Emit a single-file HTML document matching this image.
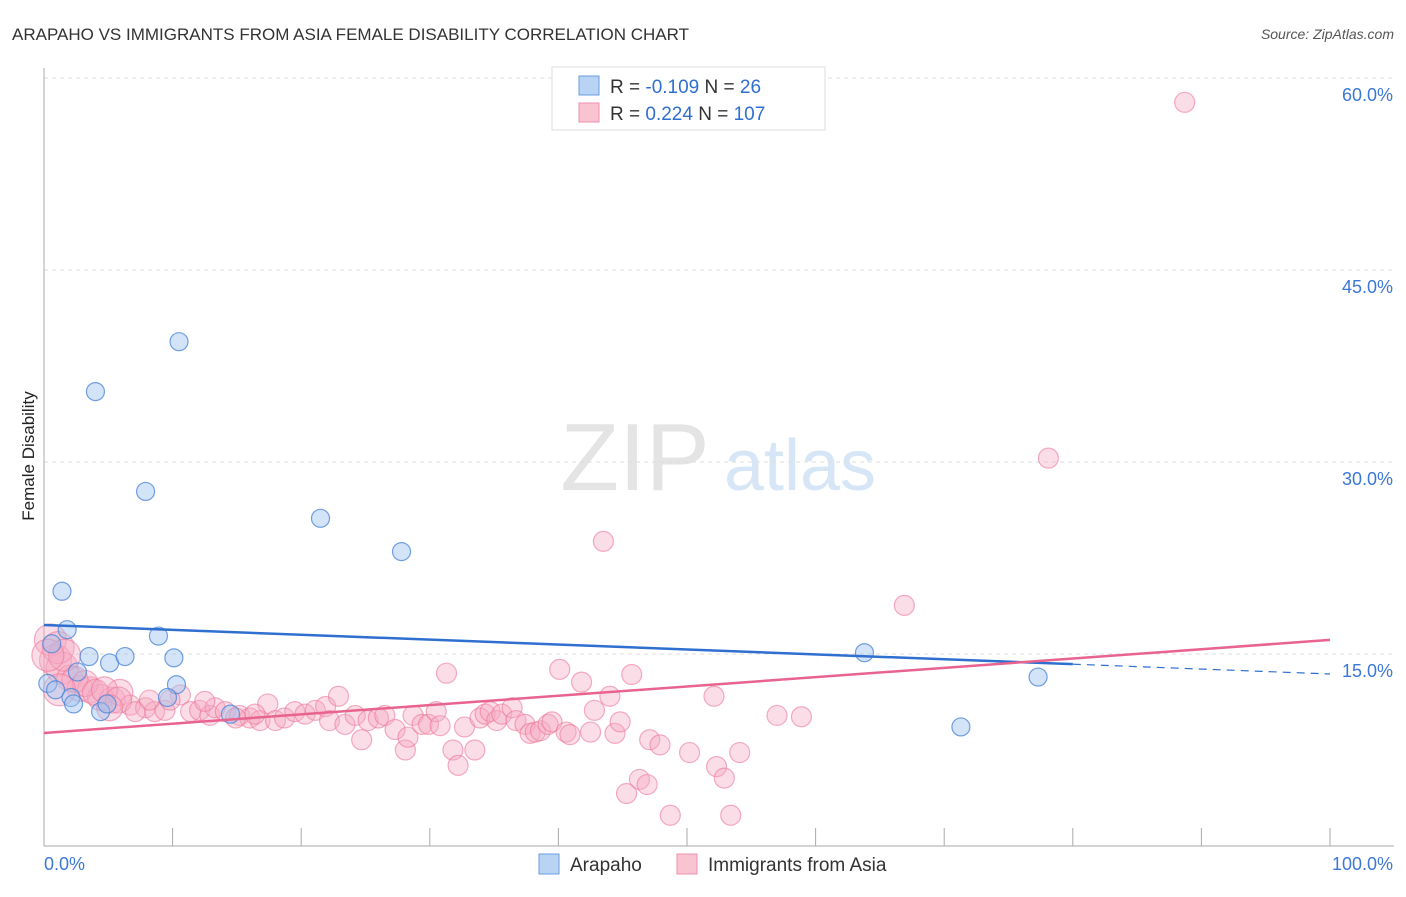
<!DOCTYPE html>
<html><head><meta charset="utf-8"><style>
body{margin:0;background:#fff;font-family:"Liberation Sans",sans-serif}
svg text{font-family:"Liberation Sans",sans-serif}
</style></head><body>
<svg id="c" width="1406" height="892" viewBox="0 0 1406 892">
<text x="12" y="40" font-size="17" fill="#333">ARAPAHO VS IMMIGRANTS FROM ASIA FEMALE DISABILITY CORRELATION CHART</text>
<text x="1394" y="39" font-size="14" fill="#555" text-anchor="end" font-style="italic">Source: ZipAtlas.com</text>
<text transform="translate(34,456) rotate(-90)" font-size="17" fill="#222" text-anchor="middle">Female Disability</text>
<g><text x="635" y="490" font-size="96" fill="#e4e4e4" text-anchor="middle" font-family="Liberation Serif">ZIP</text><text x="800" y="490" font-size="72" fill="#d6e6f6" text-anchor="middle">atlas</text></g>
<g id="grid"></g>
<g id="axes"></g>
<g id="marks"></g>
<g>
<rect x="552" y="67" width="273" height="63" fill="#fff" stroke="#ddd"/>
<rect x="579" y="76" width="20" height="19" fill="#b9d3f4" stroke="#6a9ee0"/>
<rect x="579" y="103" width="20" height="19" fill="#f9c3d2" stroke="#ee8fab"/>
<text x="610" y="93" font-size="19" fill="#333">R = <tspan fill="#2f6fd0">-0.109</tspan>   N =  <tspan fill="#2f6fd0"> 26</tspan></text>
<text x="610" y="120" font-size="19" fill="#333">R =  <tspan fill="#2f6fd0">0.224</tspan>   N = <tspan fill="#2f6fd0">107</tspan></text>
</g>
<g>
<rect x="539" y="854" width="20" height="20" fill="#b9d3f4" stroke="#6a9ee0"/>
<text x="570" y="871" font-size="19" fill="#333">Arapaho</text>
<rect x="677" y="854" width="20" height="20" fill="#f9c3d2" stroke="#ee8fab"/>
<text x="708" y="871" font-size="19" fill="#333">Immigrants from Asia</text>
</g>
</svg>
<script>
const yTicks=[15,30,45,60];
const yTickLabels=["15.0%","30.0%","45.0%","60.0%"];
const xTickVals=[0,10,20,30,40,50,60,70,80,90,100];
const blueX=[1.4,1.8,0.6,0.3,0.9,2.1,2.3,3.5,2.6,5.1,6.3,4.4,4.9,7.9,4.0,10.5,8.9,10.1,10.3,9.6,14.5,21.5,27.8,63.8,71.3,77.3];
const blueY=[19.9,16.9,15.8,12.7,12.2,11.6,11.1,14.8,13.6,14.3,14.8,10.5,11.1,27.7,35.5,39.4,16.4,14.7,12.6,11.6,10.3,25.6,23.0,15.1,9.3,13.2];
const pinkPx=[[50,640],[55,660],[62,668],[70,678],[80,688],[90,690],[100,697],[112,700],[120,692],[130,705],[145,708],[155,712],[165,710],[180,695],[190,712],[200,710],[210,715],[215,708],[225,712],[240,716],[250,718],[260,720],[268,704],[275,720],[285,718],[295,712],[305,714],[315,710],[325,706],[330,720],[338,696],[345,725],[355,716],[362,740],[368,720],[378,718],[385,716],[395,730],[405,750],[408,737],[413,715],[422,725],[428,724],[436,712],[440,726],[447,673],[453,750],[458,765],[465,727],[475,750],[480,718],[485,714],[490,712],[497,720],[502,714],[512,708],[516,720],[525,725],[530,733],[535,732],[541,731],[548,724],[552,722],[560,670],[566,732],[570,735],[582,682],[590,732],[595,710],[603,541],[610,696],[615,733],[620,722],[626,794],[632,675],[640,779],[647,785],[650,740],[660,745],[670,815],[690,752],[714,696],[717,767],[724,778],[731,815],[740,752],[777,715],[802,717],[904,606],[1049,458],[1185,102],[58,648],[65,655],[75,680],[85,684],[95,693],[105,690],[118,700],[135,712],[150,700],[170,700],[205,702],[235,718],[255,714],[48,655],[60,690],[110,708]];
const pinkX=pinkPx.map(p=>+((p[0]-44)/12.86).toFixed(1));
const pinkY=pinkPx.map(p=>+((846-p[1])/12.8).toFixed(1));
const blueTrend=[17.27,13.44];
const pinkTrend=[8.83,16.1];
const X0=44,X1=1330,Y0=846,YS=192/15;
const sx=v=>X0+(X1-X0)*v/100, sy=v=>Y0-v*YS;
const NS="http://www.w3.org/2000/svg";
function mk(t,a,p){const e=document.createElementNS(NS,t);for(const k in a)e.setAttribute(k,a[k]);p.appendChild(e);return e;}
const grid=document.getElementById('grid'),axes=document.getElementById('axes'),marks=document.getElementById('marks');
yTicks.forEach((v,i)=>{const l=mk('line',{x1:X0,x2:1394,y1:sy(v),y2:sy(v),stroke:'#ddd','stroke-dasharray':'4,4'},grid);

const t=mk('text',{x:1393,y:sy(v)+23,'font-size':18,fill:'#3b78d8','text-anchor':'end'},axes);t.textContent=yTickLabels[i];
});
mk('line',{x1:X0,x2:X0,y1:68,y2:Y0,stroke:'#aaa'},axes);
mk('line',{x1:X0,x2:1394,y1:Y0,y2:Y0,stroke:'#aaa'},axes);
xTickVals.forEach(v=>{const l=mk('line',{x1:sx(v),x2:sx(v),y1:828,y2:Y0,stroke:'#aaa'},axes);
});
let t=mk('text',{x:44,y:870,'font-size':18,fill:'#3b78d8'},axes);t.textContent="0.0%";

t=mk('text',{x:1393,y:870,'font-size':18,fill:'#3b78d8','text-anchor':'end'},axes);t.textContent="100.0%";

pinkX.forEach((x,i)=>{const r=x<2?16:x<6?13:10;const c=mk('circle',{cx:sx(x),cy:sy(pinkY[i]),r:r,fill:'rgba(246,170,195,0.4)',stroke:'rgba(236,120,155,0.6)','stroke-width':1.2},marks);
});
blueX.forEach((x,i)=>{const c=mk('circle',{cx:sx(x),cy:sy(blueY[i]),r:9,fill:'rgba(160,196,240,0.45)',stroke:'rgba(70,130,215,0.75)','stroke-width':1.2},marks);
});
const by=x=>blueTrend[0]+(blueTrend[1]-blueTrend[0])*x/100;
let l=mk('line',{x1:sx(0),y1:sy(by(0)),x2:sx(80),y2:sy(by(80)),stroke:'#2f6fd0','stroke-width':2.5},marks);

l=mk('line',{x1:sx(80),y1:sy(by(80)),x2:sx(100),y2:sy(by(100)),stroke:'#2f6fd0','stroke-width':1.2,'stroke-dasharray':'8,6'},marks);

l=mk('line',{x1:sx(0),y1:sy(pinkTrend[0]),x2:sx(100),y2:sy(pinkTrend[1]),stroke:'#e8638e','stroke-width':2.5},marks);

</script>
</body></html>
